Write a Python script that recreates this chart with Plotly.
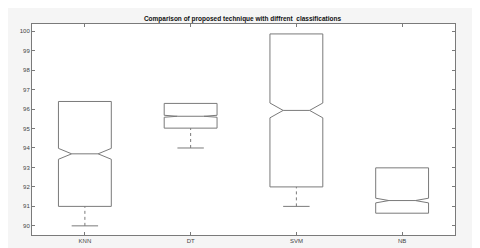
import plotly.graph_objects as go

categories = ["KNN", "DT", "SVM", "NB"]
positions = [1, 2, 3, 4]
q1 = [91.0, 95.02, 92.0, 90.65]
median = [93.7, 95.63, 95.93, 91.3]
q3 = [96.39, 96.29, 99.86, 92.98]
lower_whisker = [90.0, 94.0, 91.0, 90.65]
upper_whisker = [96.39, 96.29, 99.86, 92.98]
notch = [0.28, 0.05, 0.38, 0.12]
y_ticks = [90, 91, 92, 93, 94, 95, 96, 97, 98, 99, 100]

line_col = "#7a7a7a"
fig = go.Figure()

fig.add_trace(go.Box(
    x=positions, q1=q1, median=median, q3=q3,
    lowerfence=q1, upperfence=q3,
    notched=True, notchspan=notch, notchwidth=0.25,
    width=0.5, whiskerwidth=0,
    fillcolor="rgba(0,0,0,0)",
    line=dict(color=line_col, width=1),
    boxpoints=False, showlegend=False, hoverinfo="skip",
))

for p, lw, a, uw, b in zip(positions, lower_whisker, q1, upper_whisker, q3):
    if lw < a:
        fig.add_trace(go.Scatter(x=[p, p], y=[lw, a], mode="lines",
                                 line=dict(color=line_col, width=1, dash="3px,3px"),
                                 showlegend=False, hoverinfo="skip"))
        fig.add_trace(go.Scatter(x=[p - 0.125, p + 0.125], y=[lw, lw], mode="lines",
                                 line=dict(color=line_col, width=1),
                                 showlegend=False, hoverinfo="skip"))
    if uw > b:
        fig.add_trace(go.Scatter(x=[p, p], y=[b, uw], mode="lines",
                                 line=dict(color=line_col, width=1, dash="3px,3px"),
                                 showlegend=False, hoverinfo="skip"))
        fig.add_trace(go.Scatter(x=[p - 0.125, p + 0.125], y=[uw, uw], mode="lines",
                                 line=dict(color=line_col, width=1),
                                 showlegend=False, hoverinfo="skip"))

fig.update_layout(
    width=480, height=248,
    margin=dict(l=22, r=33, t=16, b=19),
    paper_bgcolor="#f5f5f5", plot_bgcolor="white",
    font=dict(family="Liberation Sans, Arial", size=6, color="#444444"),
    title=dict(text="<b>Comparison of proposed technique with diffrent  classifications</b>",
               x=(22 + 447) / 2 / 480, xanchor="center", y=1 - 11 / 248, yanchor="middle",
               font=dict(size=6.5, color="#111111")),
    xaxis=dict(range=[0.5, 4.5], tickvals=positions, ticktext=categories,
               showgrid=False, zeroline=False, showline=True, linecolor=line_col, linewidth=1,
               mirror="ticks", ticks="inside", ticklen=3, tickcolor=line_col),
    yaxis=dict(range=[89.53, 100.37], tickvals=y_ticks,
               showgrid=False, zeroline=False, showline=True, linecolor=line_col, linewidth=1,
               mirror="ticks", ticks="inside", ticklen=3, tickcolor=line_col),
)

fig.write_html("out.html")
